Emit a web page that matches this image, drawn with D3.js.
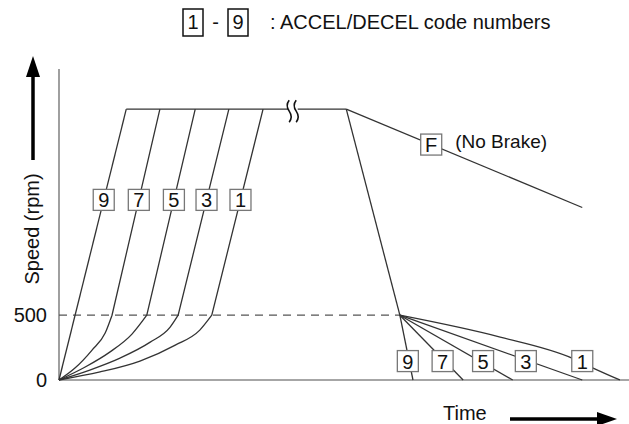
<!DOCTYPE html>
<meta charset="utf-8">
<style>
body {margin: 0; background: #fff;}
svg {font-family: "Liberation Sans", Arial, sans-serif;}
.curve {fill: none; stroke: #333; stroke-width: 1.3;}
.code rect {fill: #fff; stroke: #777; stroke-width: 1.3;}
.code text {font-size: 20px; text-anchor: middle; fill: #111;}
</style>
<html>
<body>
<script src="https://d3js.org/d3.v7.min.js"></script>
<script>
var width = 629,
    height = 424;

// speed axis ticks (rpm)
var speedTicks = [0, 500];
var topSpeed = 2090;
var breakTime = 41;

// acceleration curves, code 9 .. 1 (time units, rpm)
var accelCodes = ["9", "7", "5", "3", "1"];
var accelTime = [
  [0, 11.8],
  [0, 2.8, 5.8, 8.1, 9.3, 17.7],
  [0, 4.6, 8.9, 12.8, 15.4, 23.9],
  [0, 5.4, 10.7, 16, 19.5, 20.9, 29.8],
  [0, 7.2, 14.2, 20.4, 24.7, 26.8, 35.8]
];
var accelSpeed = [
  [0, 2090],
  [0, 92, 231, 362, 500, 2090],
  [0, 100, 215, 354, 500, 2090],
  [0, 77, 169, 292, 408, 500, 2090],
  [0, 62, 146, 269, 385, 500, 2090]
];
var accelLabelSpeed = 1390;

// plateau and deceleration
var plateauEnd = 50.4;
var brakeStart = [59.8, 500];
var decelCodes = ["9", "7", "5", "3", "1"];
var decelTime = [
  [59.8, 62.1],
  [59.8, 70.9],
  [59.8, 79.6],
  [59.8, 91.8],
  [59.8, 77.4, 90, 93.7, 98.4]
];
var decelSpeed = [
  [500, 0],
  [500, 0],
  [500, 0],
  [500, 0],
  [500, 331, 169, 92, 0]
];
var decelLabelTime = [61.2, 67.3, 74.4, 81.9, 91.8];
var decelLabelSpeed = 146;

// free run (no brake)
var freeTime = [50.4, 91.8];
var freeSpeed = [2090, 1331];
var freeLabelTime = 65.3;

var x = d3.scaleLinear().domain([0, 100]).range([59, 629]);
var y = d3.scaleLinear().domain([0, 2400]).range([380, 69]);

var svg = d3.select("body").append("svg")
    .attr("width", width)
    .attr("height", height);

// axes
svg.append("line")
    .attr("x1", x(0)).attr("x2", x(0))
    .attr("y1", y(0)).attr("y2", y(2400))
    .attr("stroke", "#888").attr("stroke-width", 1.6);
svg.append("line")
    .attr("x1", x(0)).attr("x2", x(100))
    .attr("y1", y(0)).attr("y2", y(0))
    .attr("stroke", "#888").attr("stroke-width", 1.6);

var yAxis = svg.append("g")
    .attr("transform", "translate(" + x(0) + ",0)")
    .call(d3.axisLeft(y).tickValues(speedTicks).tickSize(0).tickPadding(12));
yAxis.select(".domain").remove();
yAxis.selectAll("text")
    .style("font-size", "20px")
    .style("font-family", "'Liberation Sans', Arial, sans-serif")
    .attr("fill", "#111");

// 500 rpm dashed line
svg.append("line")
    .attr("x1", x(0)).attr("x2", x(brakeStart[0]))
    .attr("y1", y(500)).attr("y2", y(500))
    .attr("stroke", "#555").attr("stroke-width", 1.2)
    .attr("stroke-dasharray", "8,6");

var smooth = d3.line()
    .x(function(d) { return x(d[0]); })
    .y(function(d) { return y(d[1]); })
    .curve(d3.curveMonotoneX);

// accel curves: smooth up to 500 rpm, then straight
accelTime.forEach(function(ts, i) {
  var pts = ts.map(function(t, j) { return [t, accelSpeed[i][j]]; });
  var last = pts[pts.length - 1];
  var d = pts.length > 2
    ? smooth(pts.slice(0, -1)) + "L" + x(last[0]) + "," + y(last[1])
    : "M" + x(pts[0][0]) + "," + y(pts[0][1]) + "L" + x(last[0]) + "," + y(last[1]);
  svg.append("path").attr("class", "curve").attr("d", d);
});

// plateau with break mark
svg.append("path").attr("class", "curve")
    .attr("d", "M" + x(accelTime[0][1]) + "," + y(topSpeed) + "H" + x(plateauEnd));
svg.append("rect")
    .attr("x", x(breakTime) - 5).attr("y", y(topSpeed) - 3)
    .attr("width", 10).attr("height", 6).attr("fill", "#fff");
[-3.5, 3.5].forEach(function(dx) {
  var cx = x(breakTime) + dx, cy = y(topSpeed) + 2;
  svg.append("path")
      .attr("d", "M" + cx + "," + (cy - 11) + "q-4,5 0,11 t0,11")
      .attr("fill", "none").attr("stroke", "#111").attr("stroke-width", 1.6);
});

// steep braking line to 500 rpm
svg.append("path").attr("class", "curve")
    .attr("d", "M" + x(plateauEnd) + "," + y(topSpeed) + "L" + x(brakeStart[0]) + "," + y(brakeStart[1]));

// no brake line
svg.append("path").attr("class", "curve")
    .attr("d", "M" + x(freeTime[0]) + "," + y(freeSpeed[0]) + "L" + x(freeTime[1]) + "," + y(freeSpeed[1]));

// decel curves
decelTime.forEach(function(ts, i) {
  var pts = ts.map(function(t, j) { return [t, decelSpeed[i][j]]; });
  svg.append("path").attr("class", "curve").attr("d", smooth(pts));
});

function codeBox(cx, cy, label) {
  var g = svg.append("g").attr("class", "code")
      .attr("transform", "translate(" + cx + "," + cy + ")");
  g.append("rect").attr("x", -10.5).attr("y", -10.5).attr("width", 21).attr("height", 21);
  g.append("text").attr("y", 7.5).text(label);
}

// accel labels sit on the straight part of each curve
accelTime.forEach(function(ts, i) {
  var n = ts.length, sp = accelSpeed[i];
  var t0 = ts[n - 2], s0 = sp[n - 2], t1 = ts[n - 1], s1 = sp[n - 1];
  var t = t0 + (t1 - t0) * (accelLabelSpeed - s0) / (s1 - s0);
  codeBox(x(t), y(accelLabelSpeed), accelCodes[i]);
});

decelLabelTime.forEach(function(t, i) {
  codeBox(x(t), y(decelLabelSpeed), decelCodes[i]);
});

var fSpeed = freeSpeed[0] + (freeSpeed[1] - freeSpeed[0]) * (freeLabelTime - freeTime[0]) / (freeTime[1] - freeTime[0]);
codeBox(x(freeLabelTime), y(fSpeed), "F");
svg.append("text")
    .attr("x", x(freeLabelTime) + 24).attr("y", y(fSpeed) + 3)
    .style("font-size", "19px").attr("fill", "#111")
    .text("(No Brake)");

// legend at top
[["1", 193], ["9", 238]].forEach(function(b) {
  svg.append("rect")
      .attr("x", b[1] - 10).attr("y", 9).attr("width", 20).attr("height", 27)
      .attr("fill", "#fff").attr("stroke", "#111").attr("stroke-width", 1.5);
  svg.append("text")
      .attr("x", b[1]).attr("y", 29).attr("text-anchor", "middle")
      .style("font-size", "20px").attr("fill", "#111").text(b[0]);
});
svg.append("text")
    .attr("x", 215.5).attr("y", 29).attr("text-anchor", "middle")
    .style("font-size", "20px").attr("fill", "#111").text("-");
svg.append("text")
    .attr("x", 270).attr("y", 29)
    .style("font-size", "20px").attr("fill", "#111")
    .text(": ACCEL/DECEL code numbers");

// axis titles and arrows
svg.append("text")
    .attr("transform", "translate(39,229) rotate(-90)")
    .attr("text-anchor", "middle")
    .style("font-size", "20px").attr("fill", "#111")
    .text("Speed (rpm)");
svg.append("line")
    .attr("x1", 33).attr("x2", 33).attr("y1", 160).attr("y2", 74)
    .attr("stroke", "#000").attr("stroke-width", 3.5);
svg.append("path")
    .attr("d", "M33,56L26,77L40,77Z").attr("fill", "#000");

svg.append("text")
    .attr("x", 443).attr("y", 420)
    .style("font-size", "20px").attr("fill", "#111")
    .text("Time");
svg.append("line")
    .attr("x1", 510).attr("x2", 600).attr("y1", 419).attr("y2", 419)
    .attr("stroke", "#000").attr("stroke-width", 3.5);
svg.append("path")
    .attr("d", "M617,419L597,412L597,426Z").attr("fill", "#000");
</script>
</body>
</html>
